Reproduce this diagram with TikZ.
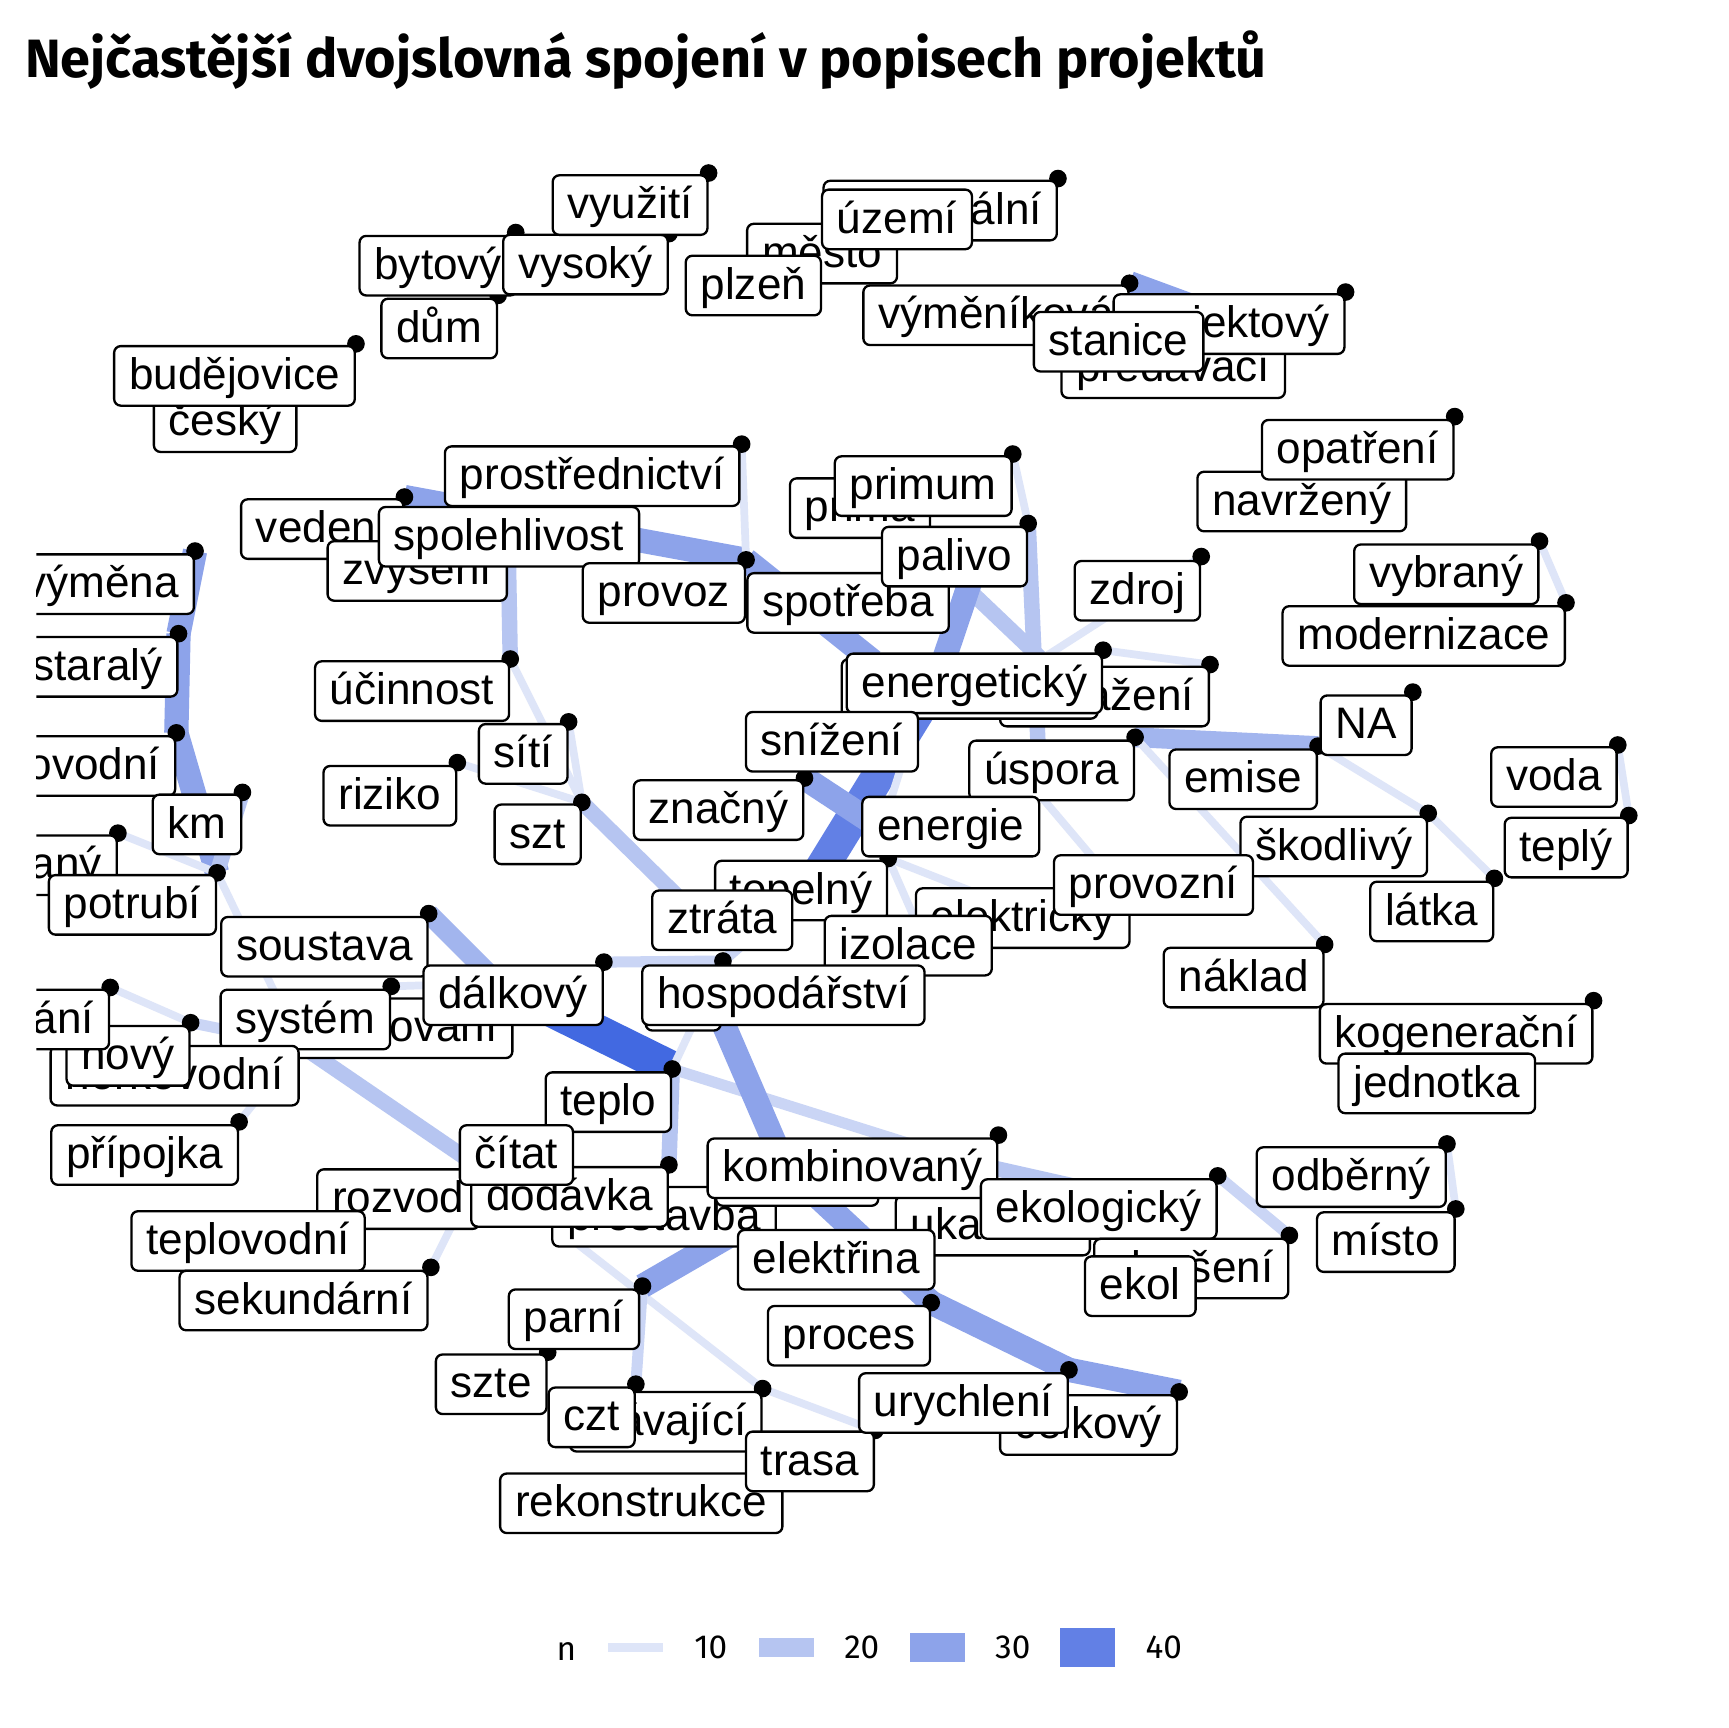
\documentclass[tikz,border=0pt]{standalone}
\usepackage{fontspec}
\setmainfont{Liberation Sans}
\newfontfamily\titlefont{Fira Sans}
\definecolor{c10}{RGB}{222,229,248}
\definecolor{c15}{RGB}{202,213,245}
\definecolor{c20}{RGB}{182,197,241}
\definecolor{c25}{RGB}{162,181,238}
\definecolor{c30}{RGB}{141,163,234}
\definecolor{c40}{RGB}{98,128,229}
\definecolor{c48}{RGB}{66,105,225}
\newcommand{\mylab}[3]{\node[lab] (L-#1) at (#2) {#3};}
\tikzset{
  lab/.style={draw=black, fill=white, rounded corners=0.06cm, line width=0.6pt,
    inner xsep=0.135cm, inner ysep=0pt, text height=0.394cm, text depth=0.146cm,
    font=\fontsize{11.38pt}{13pt}\selectfont, anchor=north east},
  e10/.style={line width=0.07cm, draw=c10},
  e15/.style={line width=0.10cm, draw=c15},
  e20/.style={line width=0.14cm, draw=c20},
  e25/.style={line width=0.18cm, draw=c25},
  e30/.style={line width=0.22cm, draw=c30},
  e40/.style={line width=0.30cm, draw=c40},
  e48/.style={line width=0.32cm, draw=c48},
  k10/.style={line width=0.08cm, draw=c10},
  k20/.style={line width=0.17cm, draw=c20},
  k30/.style={line width=0.26cm, draw=c30},
  k40/.style={line width=0.36cm, draw=c40},
  legtxt/.style={font=\titlefont\fontsize{8.6pt}{10pt}\selectfont, inner sep=0pt, anchor=base}
}
\begin{document}
\begin{tikzpicture}[x=0.01cm,y=-0.01cm]
\useasboundingbox (0,0) rectangle (1568,1568);
\fill[white] (0,0) rectangle (1568,1568);
% title
\node[anchor=base west, inner sep=0pt] (title) at (22,70)
  {\resizebox{11.26cm}{!}{\titlefont\bfseries Nejčastější dvojslovná spojení v popisech projektů}};
% ---------- coordinates (dots) ----------
\foreach \n/\x/\y in {vyuziti/643/157, vysoky/607/212, bytovy/468/211, dum/452/268,
  budejovice/323/312, katastralni/960/162, vymenikova/1025/257, projektovy/1221/265,
  opatreni/1320/378, prostrednictvi/673/403, vedeni/367/451, primum/919/412,
  palivo/933/475, provoz/677/508, zdroj/1090/505, vybrany/1397/491,
  modernizace/1421/547, vymena/177/500, staraly/162/575, ucinnost/463/598,
  energeticky/1001/590, dosazeni/1098/603, NA/1282/628, sit/516/655,
  parovodni/160/665, km/220/719, riziko/415/692, szt/528/728, znacny/730/706,
  uspora/1030/669, emise/1196/677, voda/1468/676, teply/1478/740,
  skodlivy/1296/738, predizolovany/107/756, potrubi/197/792, tepelny/806/779,
  latka/1356/797, soustava/389/829, dalkovy/548/873, hosp/656/872,
  naklad/1202/857, planovani/100/896, system/355/895, novy/173/928,
  kogeneracni/1446/908, pripojka/217/1018, teplo/610/970, kombinovany/906/1030,
  dodavka/607/1057, odberny/1313/1038, ekologicky/1105/1067, misto/1321/1097,
  zlepseni/1170/1121, sekundarni/391/1150, proces/845/1182, parni/583/1167,
  urychleni/970/1243, celkovy/1070/1263, stavajici/692/1260, czt/577/1256,
  szte/497/1227, trasa/794/1298}
  {\coordinate (D-\n) at (\x,\y);}
% hidden node positions
\foreach \n/\x/\y in {stanice/1093/282, H1/945/598, Hp/887/508, H2/850/618,
  H3/738/800, H4/792/600, Hen/800/752, Hz/640/838, H5/452/892, Hh/643/898,
  Hk/712/1058, Hx/880/1055, Hek/1000/1082, horko/272/948, rozvod/436/1060,
  Hpr/690/1105, energie/944/722, elektr/1010/800, spotreba/862/519,
  zvyseni/461/490, izol/835/845, el2/880/808, sniz/818/695}
  {\coordinate (H-\n) at (\x,\y);}
\begin{scope}
\clip (33,100) rectangle (1568,1440);
% ---------- edges ----------
\draw[e30] (D-vymenikova) -- (H-stanice);
\draw[e10] (D-primum) -- (D-palivo);
\draw[e20] (D-palivo) -- (H-energie);
\draw[e20] (H-spotreba) -- (H-H1);
\draw[e30] (H-Hp) -- (H-H2);
\draw[e40] (H-H2) -- (H-H3);
\draw[e30] (D-vedeni) -- (D-provoz);
\draw[e30] (D-provoz) -- (H-H4);
\draw[e10] (D-prostrednictvi) -- (D-provoz);
\draw[e20] (H-zvyseni) -- (D-ucinnost);
\draw[e10] (D-ucinnost) -- (D-szt);
\draw[e10] (D-sit) -- (D-szt);
\draw[e10] (D-riziko) -- (D-szt);
\draw[e20] (D-szt) -- (H-Hz);
\draw[e15] (H-H3) -- (D-hosp);
\draw[e15] (D-dalkovy) -- (D-hosp);
\draw[e25] (D-soustava) -- (H-H5);
\draw[e48] (H-H5) -- (D-teplo);
\draw[e10] (D-system) -- (H-H5);
\draw[e10] (D-teplo) -- (D-hosp);
\draw[e20] (D-teplo) -- (D-dodavka);
\draw[e15] (D-teplo) -- (H-Hx);
\draw[e20] (H-Hx) -- (H-Hek);
\draw[e30] (H-Hh) -- (H-Hk);
\draw[e30] (H-Hk) -- (D-proces);
\draw[e30] (D-proces) -- (D-urychleni);
\draw[e30] (D-urychleni) -- (D-celkovy);
\draw[e30] (D-znacny) -- (H-Hen);
\draw[e10] (H-sniz) -- (H-Hen);
\draw[e10] (H-energie) -- (H-elektr);
\draw[e10] (D-tepelny) -- (H-izol);
\draw[e10] (D-tepelny) -- (H-el2);
\draw[e25] (D-uspora) -- (D-emise);
\draw[e10] (D-emise) -- (D-skodlivy);
\draw[e10] (D-skodlivy) -- (D-latka);
\draw[e10] (D-uspora) -- (D-naklad);
\draw[e10] (D-zdroj) -- (H-H1);
\draw[e10] (D-energeticky) -- (D-dosazeni);
\draw[e10] (D-vybrany) -- (D-modernizace);
\draw[e10] (D-voda) -- (D-teply);
\draw[e10] (D-odberny) -- (D-misto);
\draw[e15] (D-ekologicky) -- (D-zlepseni);
\draw[e30] (D-vymena) -- (D-staraly);
\draw[e30] (D-staraly) -- (D-parovodni);
\draw[e30] (D-parovodni) -- (D-potrubi);
\draw[e20] (D-km) -- (D-potrubi);
\draw[e10] (D-predizolovany) -- (D-potrubi);
\draw[e10] (D-potrubi) -- (H-horko);
\draw[e10] (D-planovani) -- (D-novy);
\draw[e15] (D-novy) -- (H-horko);
\draw[e10] (H-horko) -- (D-pripojka);
\draw[e20] (H-horko) -- (H-rozvod);
\draw[e10] (D-sekundarni) -- (H-rozvod);
\draw[e10] (H-rozvod) -- (D-stavajici);
\draw[e10] (D-stavajici) -- (D-trasa);
\draw[e30] (D-parni) -- (H-Hpr);
\draw[e15] (D-parni) -- (D-czt);
% ---------- dots ----------
\foreach \n in {vyuziti, vysoky, bytovy, dum, budejovice, katastralni, vymenikova,
  projektovy, opatreni, prostrednictvi, vedeni, primum, palivo, provoz, zdroj,
  vybrany, modernizace, vymena, staraly, ucinnost, energeticky, dosazeni, NA, sit,
  parovodni, km, riziko, szt, znacny, uspora, emise, voda, teply, skodlivy,
  predizolovany, potrubi, tepelny, latka, soustava, dalkovy, hosp, naklad,
  planovani, system, novy, kogeneracni, pripojka, teplo, kombinovany, dodavka,
  odberny, ekologicky, misto, zlepseni, sekundarni, proces, parni, urychleni,
  celkovy, stavajici, czt, szte, trasa}
  {\fill[black] (D-\n) circle[radius=0.08cm];}
% ---------- labels ----------
\mylab{cesky}{270,355}{český}
\mylab{budejovice}{323,313}{budějovice}
\mylab{dum}{452,270}{dům}
\mylab{bytovy}{470,213}{bytový}
\mylab{vysoky}{607,212}{vysoký}
\mylab{vyuziti}{643,158}{využití}
\mylab{mesto}{815,202}{město}
\mylab{plzen}{746,231}{plzeň}
\mylab{katastralni}{960,163}{katastrální}
\mylab{uzemi}{883,171}{území}
\mylab{vymenikova}{1025,258}{výměníková}
\mylab{predavaci}{1167,306}{předávací}
\mylab{projektovy}{1221,266}{projektový}
\mylab{stanice}{1093,282}{stanice}
\mylab{navrzeny}{1277,427}{navržený}
\mylab{opatreni}{1320,380}{opatření}
\mylab{prostrednictvi}{672,404}{prostřednictví}
\mylab{vedeni}{367,452}{vedení}
\mylab{zvyseni}{461,490}{zvýšení}
\mylab{spolehlivost}{581,459}{spolehlivost}
\mylab{provoz}{677,510}{provoz}
\mylab{spotreba}{862,519}{spotřeba}
\mylab{prima}{845,433}{prima}
\mylab{primum}{919,413}{primum}
\mylab{palivo}{933,477}{palivo}
\mylab{zdroj}{1090,508}{zdroj}
\mylab{vybrany}{1397,493}{vybraný}
\mylab{modernizace}{1421,549}{modernizace}
\mylab{dosazeni}{1098,604}{dosažení}
\node[lab, minimum width=2.32cm] (L-hidE) at (997,597) {};
\mylab{energeticky}{1001,592}{energetický}
\mylab{snizeni}{834,645}{snížení}
\mylab{znacny}{730,707}{značný}
\mylab{uspora}{1030,671}{úspora}
\mylab{energie}{944,722}{energie}
\mylab{NA}{1282,630}{NA}
\mylab{emise}{1196,679}{emise}
\mylab{voda}{1468,677}{voda}
\mylab{teply}{1478,741}{teplý}
\mylab{skodlivy}{1296,740}{škodlivý}
\mylab{latka}{1356,799}{látka}
\mylab{elektricky}{1026,805}{elektrický}
\mylab{provozni}{1138,775}{provozní}
\mylab{tepelny}{806,780}{tepelný}
\mylab{ztrata}{720,807}{ztráta}
\mylab{izolace}{901,830}{izolace}
\node[lab, minimum width=0.68cm] (L-hidH) at (655,880) {};
\mylab{hospodarstvi}{840,875}{hospodářství}
\mylab{naklad}{1202,859}{náklad}
\mylab{kogeneracni}{1446,910}{kogenerační}
\mylab{jednotka}{1394,955}{jednotka}
\mylab{vymena}{177,502}{výměna}
\mylab{staraly}{162,577}{staralý}
\mylab{parovodni}{160,667}{parovodní}
\mylab{ucinnost}{463,599}{účinnost}
\mylab{sit}{516,656}{sítí}
\mylab{riziko}{415,694}{riziko}
\mylab{szt}{528,729}{szt}
\mylab{km}{220,720}{km}
\mylab{predizolovany}{107,757}{předizolovaný}
\mylab{potrubi}{197,793}{potrubí}
\mylab{soustava}{389,831}{soustava}
\mylab{zasobovani}{466,905}{zásobování}
\mylab{system}{355,897}{systém}
\mylab{dalkovy}{548,875}{dálkový}
\mylab{horkovodni}{272,948}{horkovodní}
\mylab{novy}{173,930}{nový}
\mylab{planovani}{100,897}{plánování}
\mylab{pripojka}{217,1020}{přípojka}
\mylab{teplo}{610,972}{teplo}
\mylab{rozvod}{436,1060}{rozvod}
\mylab{teplovodni}{332,1098}{teplovodní}
\mylab{sekundarni}{389,1152}{sekundární}
\mylab{prestavba}{705,1076}{přestavba}
\mylab{dodavka}{607,1058}{dodávka}
\mylab{citat}{521,1020}{čítat}
\node[lab, minimum width=1.47cm] (L-hidV) at (798,1039) {};
\mylab{ukazatel}{990,1084}{ukazatel}
\mylab{kombinovany}{906,1032}{kombinovaný}
\mylab{elektrina}{849,1115}{elektřina}
\mylab{ekologicky}{1105,1069}{ekologický}
\mylab{zlepseni}{1170,1123}{zlepšení}
\mylab{ekol}{1086,1139}{ekol}
\mylab{odberny}{1313,1040}{odběrný}
\mylab{misto}{1321,1099}{místo}
\mylab{parni}{581,1169}{parní}
\mylab{szte}{497,1228}{szte}
\mylab{stavajici}{692,1262}{stávající}
\mylab{czt}{577,1258}{czt}
\mylab{rekonstrukce}{711,1336}{rekonstrukce}
\mylab{trasa}{794,1298}{trasa}
\mylab{proces}{845,1184}{proces}
\mylab{celkovy}{1069,1265}{celkový}
\mylab{urychleni}{970,1245}{urychlení}
\end{scope}
% ---------- legend ----------
\node[legtxt] (leg-n) at (514,1507) {n};
\coordinate (k10a) at (552,1495); \coordinate (k10b) at (602,1495);
\coordinate (k20a) at (689,1495); \coordinate (k20b) at (739,1495);
\coordinate (k30a) at (826,1495); \coordinate (k30b) at (876,1495);
\coordinate (k40a) at (962,1495); \coordinate (k40b) at (1012,1495);
\draw[k10] (k10a) -- (k10b);
\draw[k20] (k20a) -- (k20b);
\draw[k30] (k30a) -- (k30b);
\draw[k40] (k40a) -- (k40b);
\node[legtxt] (leg10) at (645,1505) {10};
\node[legtxt] (leg20) at (782,1505) {20};
\node[legtxt] (leg30) at (919,1505) {30};
\node[legtxt] (leg40) at (1056,1505) {40};
\end{tikzpicture}
\end{document}
